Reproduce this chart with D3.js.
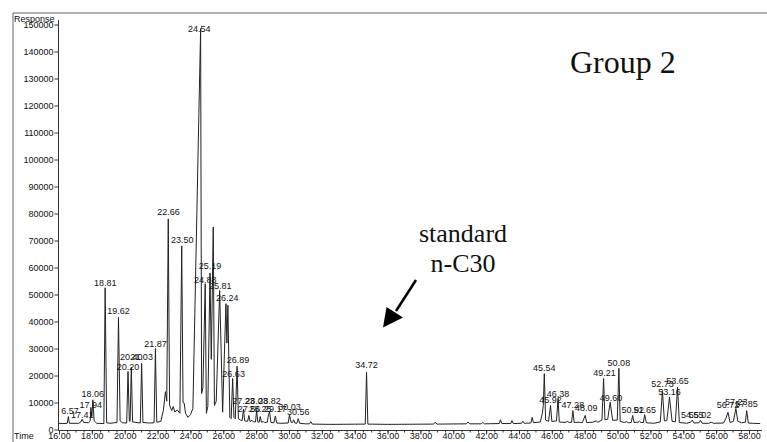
<!DOCTYPE html>
<html>
<head>
<meta charset="utf-8">
<script src="https://cdn.jsdelivr.net/npm/d3@7"></script>
<style>
  body { margin: 0; background: #fff; }
  svg { display: block; }
  text { font-family: "Liberation Sans", Arial, sans-serif; fill: #111; }
</style>
</head>
<body>
<svg id="canvas" width="767" height="442"></svg>
<script>
// trace vertices: [time (min), response]
let traceEarly = [
	[15.97, 2300], [16.3, 2200], [16.5, 2300], [16.57, 4800], [16.63, 2300], [17.2, 2300],
	[17.33, 2800], [17.41, 3800], [17.5, 2600], [17.8, 2500], [17.9, 3200], [17.94, 8000],
	[18.0, 4800], [18.06, 11000], [18.14, 3200], [18.3, 2300], [18.73, 2200], [18.81, 52500],
	[18.9, 2500], [19.1, 2300], [19.53, 2600], [19.62, 41500], [19.72, 3200], [19.85, 2500],
	[20.12, 2400], [20.2, 21500], [20.28, 3200], [20.33, 3000], [20.4, 23000], [20.48, 2800],
	[20.95, 2400], [21.03, 24500], [21.11, 2600], [21.5, 2400], [21.79, 2500], [21.87, 30000],
	[21.95, 2700]
];

let traceCluster = [
	[22.2, 3000], [22.35, 7000], [22.48, 14000], [22.56, 10500], [22.65, 78000], [22.73, 9000],
	[22.86, 7000], [22.95, 8500], [23.05, 6500], [23.2, 7200], [23.36, 6000], [23.47, 68000],
	[23.55, 10000], [23.62, 9800], [23.7, 6000], [23.85, 4500], [24.0, 5500], [24.15, 7800],
	[24.62, 148500], [24.68, 13300], [24.76, 15500], [24.9, 54000], [24.97, 6000], [25.06, 8500],
	[25.19, 58000], [25.27, 26000], [25.39, 75000], [25.46, 8900], [25.57, 10500], [25.78, 51500],
	[25.96, 6400], [26.16, 46600], [26.22, 32000], [26.28, 46000], [26.4, 4500], [26.48, 4000],
	[26.57, 18900], [26.65, 4500], [26.73, 4000], [26.84, 23400], [26.92, 4000], [27.05, 3500]
];

let traceSmall = [
	[27.15, 3300], [27.23, 7500], [27.3, 3200], [27.48, 3000], [27.56, 5200], [27.63, 2900],
	[27.75, 3400], [27.83, 2800], [27.96, 2800], [28.03, 7000], [28.1, 2800], [28.18, 2700],
	[28.25, 4800], [28.32, 2700], [28.45, 2900], [28.52, 2600], [28.68, 2700], [28.75, 5500],
	[28.82, 6500], [28.9, 2600], [29.08, 2500], [29.17, 5000], [29.25, 2400], [29.5, 2300],
	[29.95, 2400], [30.03, 5500], [30.12, 2700], [30.22, 2600], [30.28, 3600], [30.36, 2400],
	[30.48, 2300], [30.56, 4000], [30.65, 2300], [31.0, 2100], [31.25, 2100], [31.33, 2900],
	[31.42, 2000]
];

let traceLate = [
	[32.5, 1900], [34.64, 2000], [34.72, 21200], [34.8, 2000], [36, 1900], [38.8, 2000],
	[38.9, 2700], [39.0, 2000], [40.8, 2100], [40.9, 2800], [41.0, 2100], [41.7, 2100],
	[41.8, 2600], [41.9, 2100], [42.8, 2200], [42.87, 3600], [42.95, 2200], [43.5, 2200],
	[43.57, 3300], [43.65, 2200], [44.15, 2300], [44.24, 3100], [44.32, 2300], [44.72, 2400],
	[44.8, 4500], [44.88, 2500], [45.3, 2800], [45.42, 6000], [45.48, 9000], [45.54, 20700],
	[45.62, 3500], [45.8, 3000], [45.92, 8900], [46.0, 3000], [46.28, 3200], [46.38, 11500],
	[46.45, 2800], [46.8, 2600], [46.95, 3000], [47.05, 2600], [47.2, 2700], [47.28, 7000],
	[47.36, 2600], [47.7, 2700], [47.85, 2500], [48.03, 5200], [48.12, 2600], [48.5, 2700],
	[48.7, 3200], [48.8, 2700], [49.05, 3500], [49.15, 18900], [49.23, 3600], [49.4, 3800],
	[49.55, 10100], [49.7, 3400], [49.98, 3500], [50.08, 22600], [50.16, 3000], [50.4, 2600],
	[50.55, 2900], [50.65, 2500], [50.83, 2600], [50.92, 5200], [51.0, 2600], [51.25, 2700],
	[51.33, 3100], [51.42, 2600], [51.57, 2600], [51.65, 5500], [51.75, 2500], [52.2, 2300],
	[52.6, 2800], [52.73, 14400], [52.85, 3200], [53.0, 3300], [53.16, 12000], [53.32, 3000],
	[53.52, 2900], [53.65, 15700], [53.76, 2600], [54.2, 2300], [54.45, 2700], [54.55, 3500],
	[54.65, 2400], [54.95, 2500], [55.05, 3400], [55.15, 2300], [55.55, 2300], [55.7, 2700],
	[55.85, 2300], [56.45, 2400], [56.6, 4200], [56.72, 6400], [56.85, 2600], [57.05, 3000],
	[57.2, 7800], [57.32, 3000], [57.55, 2500], [57.78, 2700], [57.86, 7000], [57.96, 2400],
	[58.2, 2300], [58.68, 2200]
];

// peak retention-time labels, where they sit (time, response)
let peakLabels = [
	'6.57', '17.41', '17.94', '18.06', '18.81', '19.62', '20.20', '20.40', '21.03', '21.87',
	'22.66', '23.50', '24.54', '24.88', '25.19', '25.81', '26.24', '26.63', '26.89',
	'27.23', '28.03', '28.82', '27.56', '28.25', '29.17', '30.03', '30.56',
	'34.72', '45.54', '45.92', '46.38', '47.28', '48.09', '49.21', '49.60', '50.08',
	'50.92', '51.65', '52.73', '53.16', '53.65', '54.55', '55.02', '56.72', '57.23', '57.85'
];
let labelTimes = [
	16.67, 17.41, 17.94, 18.06, 18.81, 19.62, 20.20, 20.40, 21.03, 21.87,
	22.66, 23.50, 24.54, 24.90, 25.19, 25.81, 26.24, 26.63, 26.89,
	27.23, 28.03, 28.82, 27.56, 28.25, 29.17, 30.03, 30.56,
	34.72, 45.54, 45.92, 46.38, 47.28, 48.09, 49.21, 49.60, 50.08,
	50.92, 51.65, 52.73, 53.16, 53.65, 54.55, 55.02, 56.72, 57.23, 57.85
];
let labelLevels = [
	5900, 4100, 8100, 12200, 53000, 42600, 22200, 25600, 25600, 30700,
	79600, 69100, 147400, 54300, 59300, 51900, 47600, 19600, 24800,
	9300, 9600, 9300, 6300, 6300, 6300, 7400, 5200,
	22600, 21700, 9800, 11900, 7800, 7000, 20000, 10700, 23700,
	6100, 6100, 15700, 12600, 16700, 4100, 4100, 7800, 8900, 8500
];

let yTickValues = d3.range(0, 150001, 10000);
let xTickValues = d3.range(16, 58.01, 2);
let xMinorTicks = d3.range(16, 58.6, 0.5);

let canvas = d3.select('#canvas');

let xScale = d3.scaleLinear().domain([16, 58]).range([59, 749]);
let yScale = d3.scaleLinear().domain([0, 150000]).range([429.5, 24.5]);

// outer frame (top and left)
canvas.append('path')
	.attr('d', 'M13,442 L13,13 L767,13')
	.attr('fill', 'none')
	.attr('stroke', '#666')
	.attr('stroke-width', 1);

// y axis
let yAxis = canvas.append('g')
	.attr('transform', 'translate(58.5,0)')
	.call(d3.axisLeft(yScale).tickValues(yTickValues).tickFormat(d3.format('d')).tickSize(4).tickPadding(1));
yAxis.select('.domain').remove();
yAxis.append('line')
	.attr('y1', 20).attr('y2', yScale(0) + 1)
	.attr('stroke', '#333');
yAxis.selectAll('text').style('font-size', '9px').attr('fill', '#111');
yAxis.selectAll('line').attr('stroke', '#333');

// x axis
let xAxis = canvas.append('g')
	.attr('transform', 'translate(0,' + (yScale(0) + 1) + ')')
	.call(d3.axisBottom(xScale).tickValues(xTickValues).tickFormat(d3.format('.2f')).tickSize(4));
xAxis.select('.domain').remove();
xAxis.append('line')
	.attr('x1', 58.5).attr('x2', 762)
	.attr('stroke', '#333');
xAxis.selectAll('text').style('font-size', '9px').attr('fill', '#111').attr('y', 2.5);
xAxis.selectAll('line').attr('stroke', '#333');

canvas.append('g')
	.attr('transform', 'translate(0,' + (yScale(0) + 1) + ')')
	.call(d3.axisBottom(xScale).tickValues(xMinorTicks).tickFormat('').tickSize(2))
	.call((g) => g.select('.domain').remove())
	.selectAll('line').attr('stroke', '#333');

canvas.append('text').text('Response')
	.attr('x', 14).attr('y', 22).style('font-size', '9px');
canvas.append('text').text('Time')
	.attr('x', 14).attr('y', 439).style('font-size', '9px');

// chromatogram trace
let trace = traceEarly.concat(traceCluster, traceSmall, traceLate);
let line = d3.line()
	.x((d) => xScale(d[0]))
	.y((d) => yScale(d[1]));

canvas.append('path')
	.datum(trace)
	.attr('d', line)
	.attr('fill', 'none')
	.attr('stroke', '#222')
	.attr('stroke-width', 1)
	.attr('stroke-linejoin', 'round');

// peak labels
canvas.append('g')
	.selectAll('text')
	.data(peakLabels)
	.enter()
	.append('text')
	.text((d) => d)
	.attr('x', (d, i) => xScale(labelTimes[i]))
	.attr('y', (d, i) => yScale(labelLevels[i]))
	.attr('text-anchor', 'middle')
	.style('font-size', '9px');

// annotations
let serif = '"Liberation Serif", "Times New Roman", serif';
canvas.append('text').text('Group 2')
	.attr('x', 570).attr('y', 73)
	.style('font-family', serif).style('font-size', '32px');
canvas.append('text').text('standard')
	.attr('x', 463).attr('y', 242).attr('text-anchor', 'middle')
	.style('font-family', serif).style('font-size', '26px');
canvas.append('text').text('n-C30')
	.attr('x', 463).attr('y', 272).attr('text-anchor', 'middle')
	.style('font-family', serif).style('font-size', '26px');

canvas.append('line')
	.attr('x1', 416).attr('y1', 280)
	.attr('x2', 396).attr('y2', 311)
	.attr('stroke', '#000').attr('stroke-width', 2.5);
canvas.append('path')
	.attr('d', 'M383,327.5 L386.5,307 L403,317.5 Z')
	.attr('fill', '#000');
</script>
</body>
</html>
